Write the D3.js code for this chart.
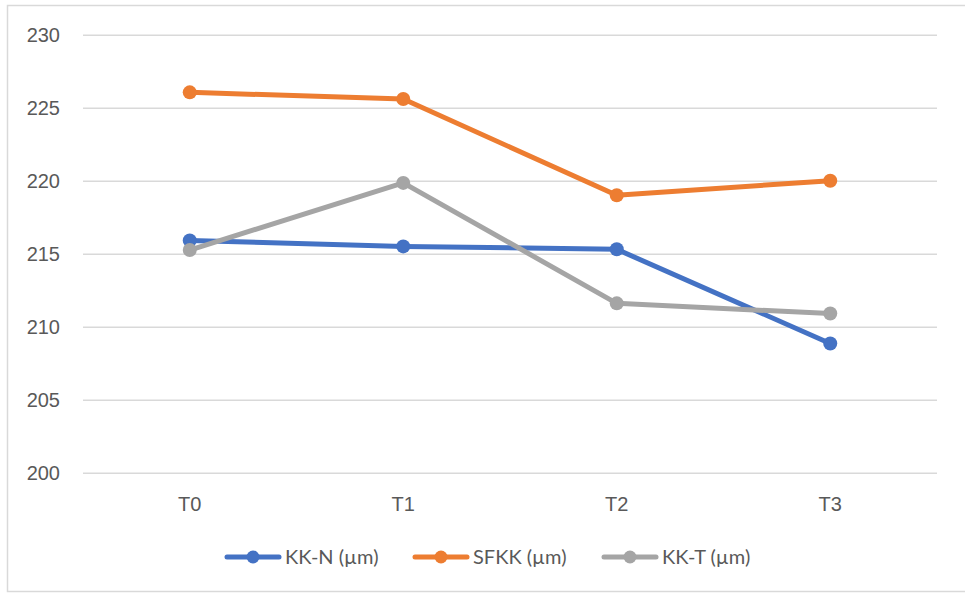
<!DOCTYPE html>
<html>
<head>
<meta charset="utf-8">
<script src="https://cdn.jsdelivr.net/npm/d3@7"></script>
<style>
  html, body { margin: 0; padding: 0; background: #fff; }
  svg { display: block; font-family: Lato, "Open Sans", "Liberation Sans", sans-serif; }
</style>
</head>
<body>
<svg id="chart" width="965" height="595"></svg>
<script>
// Measurement periods
const categories = ["T0", "T1", "T2", "T3"];

// Series values (µm)
const kkN  = [215.9, 215.5, 215.3, 208.85];
const sfkk = [226.05, 225.6, 219.0, 220.0];
const kkT  = [215.25, 219.85, 211.6, 210.9];

const seriesNames  = ["KK-N (µm)", "SFKK (µm)", "KK-T (µm)"];
const seriesColors = ["#4472C4", "#ED7D31", "#A5A5A5"];

// Y axis ticks
const yTicks = [200, 205, 210, 215, 220, 225, 230];

const series = [kkN, sfkk, kkT].map((values, i) => ({
  name: seriesNames[i],
  color: seriesColors[i],
  values
}));

const svg = d3.select("#chart");

// Outer chart frame
svg.append("rect")
  .attr("x", 7.5).attr("y", 5.5)
  .attr("width", 970).attr("height", 586)
  .attr("fill", "#fff")
  .attr("stroke", "#d9d9d9")
  .attr("stroke-width", 1.5);

const plot = { left: 83, right: 937, top: 34.7, bottom: 472.7 };

const x = d3.scaleBand()
  .domain(categories)
  .range([plot.left, plot.right]);

const y = d3.scaleLinear()
  .domain([200, 230])
  .range([plot.bottom, plot.top]);

// Horizontal gridlines and y labels
const yAxis = d3.axisLeft(y)
  .tickValues(yTicks)
  .tickSize(-(plot.right - plot.left))
  .tickPadding(23);

const gy = svg.append("g")
  .attr("transform", `translate(${plot.left},0)`)
  .call(yAxis);
gy.select(".domain").remove();
gy.selectAll(".tick line")
  .attr("stroke", "#d9d9d9")
  .attr("stroke-width", 1.5);
gy.selectAll(".tick text")
  .attr("fill", "#595959")
  .style("font-size", "20px");

// Category labels
const xAxis = d3.axisBottom(x).tickSize(0).tickPadding(24);
const gx = svg.append("g")
  .attr("transform", `translate(0,${plot.bottom})`)
  .call(xAxis);
gx.select(".domain").remove();
gx.selectAll(".tick text")
  .attr("fill", "#595959")
  .style("font-size", "20px");

const cx = c => x(c) + x.bandwidth() / 2;

const line = d3.line()
  .x((d, i) => cx(categories[i]))
  .y(d => y(d));

// Lines and markers
series.forEach(s => {
  const g = svg.append("g");
  g.append("path")
    .datum(s.values)
    .attr("d", line)
    .attr("fill", "none")
    .attr("stroke", s.color)
    .attr("stroke-width", 5)
    .attr("stroke-linejoin", "round")
    .attr("stroke-linecap", "round");
  g.selectAll("circle")
    .data(s.values)
    .join("circle")
    .attr("cx", (d, i) => cx(categories[i]))
    .attr("cy", d => y(d))
    .attr("r", 7)
    .attr("fill", s.color);
});

// Legend
const legendX = [225, 413, 602];
const legendY = 557;
const legend = svg.append("g");
series.forEach((s, i) => {
  const g = legend.append("g").attr("transform", `translate(${legendX[i]},${legendY})`);
  g.append("line")
    .attr("x1", 2).attr("x2", 54)
    .attr("stroke", s.color)
    .attr("stroke-width", 5)
    .attr("stroke-linecap", "round");
  g.append("circle")
    .attr("cx", 28).attr("r", 6.5)
    .attr("fill", s.color);
  g.append("text")
    .attr("x", 60)
    .attr("dy", "0.35em")
    .attr("fill", "#595959")
    .style("font-size", "20px")
    .text(s.name);
});
</script>
</body>
</html>
